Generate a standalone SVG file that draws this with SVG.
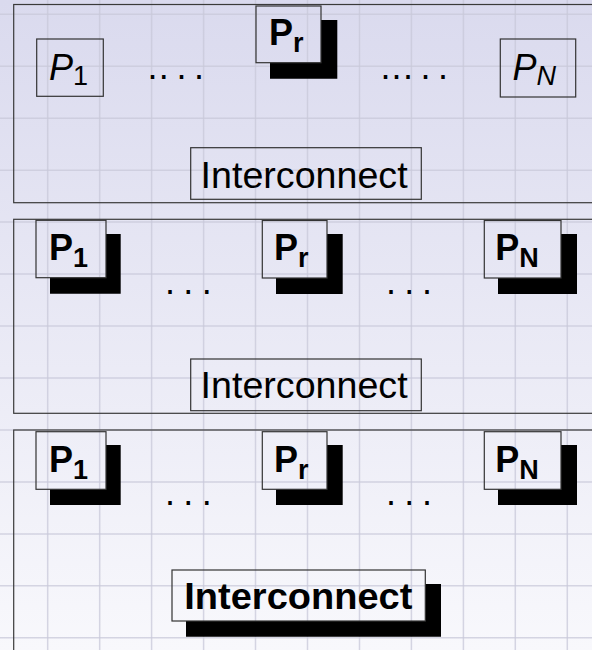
<svg xmlns="http://www.w3.org/2000/svg" width="592" height="650" viewBox="0 0 592 650">
<defs>
<linearGradient id="bg" x1="0" y1="0" x2="0" y2="650" gradientUnits="userSpaceOnUse">
<stop offset="0" stop-color="#dadaee"/>
<stop offset="1" stop-color="#f8f8fc"/>
</linearGradient>
<style>
.grid line{stroke:#c9c9da;stroke-width:1.5;opacity:0.75}
.outer{fill:none;stroke:#3a3a3a;stroke-width:1.2}
.box{fill:none;stroke:#333;stroke-width:1.2}
.sh{fill:#000}
text{font-family:"Liberation Sans",Arial,sans-serif;fill:#000}
.p{font-size:36px}
.sub{font-size:27px}
.b{font-weight:bold}
.it{font-style:italic}
.ic{font-size:37px}
.dots{font-size:36px}
</style>
</defs>
<rect x="0" y="0" width="592" height="650" fill="url(#bg)"/>
<g class="grid">
<line x1="47.7" y1="0" x2="47.7" y2="650"/>
<line x1="99.7" y1="0" x2="99.7" y2="650"/>
<line x1="151.6" y1="0" x2="151.6" y2="650"/>
<line x1="203.6" y1="0" x2="203.6" y2="650"/>
<line x1="255.5" y1="0" x2="255.5" y2="650"/>
<line x1="307.5" y1="0" x2="307.5" y2="650"/>
<line x1="359.5" y1="0" x2="359.5" y2="650"/>
<line x1="411.4" y1="0" x2="411.4" y2="650"/>
<line x1="463.4" y1="0" x2="463.4" y2="650"/>
<line x1="515.3" y1="0" x2="515.3" y2="650"/>
<line x1="567.3" y1="0" x2="567.3" y2="650"/>
<line x1="0" y1="14.3" x2="592" y2="14.3"/>
<line x1="0" y1="66.3" x2="592" y2="66.3"/>
<line x1="0" y1="118.2" x2="592" y2="118.2"/>
<line x1="0" y1="170.2" x2="592" y2="170.2"/>
<line x1="0" y1="222.1" x2="592" y2="222.1"/>
<line x1="0" y1="274.1" x2="592" y2="274.1"/>
<line x1="0" y1="326" x2="592" y2="326"/>
<line x1="0" y1="378" x2="592" y2="378"/>
<line x1="0" y1="430" x2="592" y2="430"/>
<line x1="0" y1="481.9" x2="592" y2="481.9"/>
<line x1="0" y1="533.9" x2="592" y2="533.9"/>
<line x1="0" y1="585.8" x2="592" y2="585.8"/>
<line x1="0" y1="637.8" x2="592" y2="637.8"/>
</g>

<g id="panel1">
<rect class="outer" x="13.7" y="4.5" width="600" height="198.2"/>
<g id="p1-P1">
<rect class="box" x="36.7" y="39" width="66.6" height="57.3"/>
<text class="p it" x="49" y="80">P<tspan class="sub" font-style="normal" dy="5">1</tspan></text>
</g>
<text class="dots" x="147.5 158.8 176.5 194.1" y="78.7">....</text>
<g id="p1-Pr">
<path class="sh" d="M321,20 H337.3 V78.7 H270 V62.7 H321 Z"/>
<rect class="box" x="256" y="6" width="65" height="56.7"/>
<text class="p b" x="269" y="45">P<tspan class="sub" dy="6.7">r</tspan></text>
</g>
<text class="dots" x="380.5 391.5 403.1 420.5 438.1" y="78.7">.....</text>
<g id="p1-PN">
<rect class="box" x="500.3" y="39" width="75.4" height="58"/>
<text class="p it" x="512.5" y="80">P<tspan class="sub" dy="5">N</tspan></text>
</g>
<g id="p1-ic">
<rect class="box" x="190.7" y="147.7" width="230.6" height="51.6"/>
<text class="ic" x="200.6" y="188.3" textLength="207" lengthAdjust="spacingAndGlyphs">Interconnect</text>
</g>
</g>

<g id="panel2">
<rect class="outer" x="13.7" y="219.3" width="600" height="194"/>
<g id="p2-P1">
<path class="sh" d="M106,234 H120.7 V293.7 H50 V277.7 H106 Z"/>
<rect class="box" x="36" y="220.3" width="70" height="57.4"/>
<text class="p b" x="49" y="259.5">P<tspan class="sub" dy="7.2">1</tspan></text>
</g>
<text class="dots" x="165 183.3 201.7" y="293.5">...</text>
<g id="p2-Pr">
<path class="sh" d="M327,234 H342.7 V294 H276 V278 H327 Z"/>
<rect class="box" x="262.3" y="220.5" width="64.7" height="57.5"/>
<text class="p b" x="274" y="259.5">P<tspan class="sub" dy="7.2">r</tspan></text>
</g>
<text class="dots" x="386 404.3 422" y="293.5">...</text>
<g id="p2-PN">
<path class="sh" d="M561,234 H577 V294 H498 V278 H561 Z"/>
<rect class="box" x="484.3" y="220.5" width="76.7" height="57.5"/>
<text class="p b" x="495.2" y="259.5">P<tspan class="sub" dy="7.2">N</tspan></text>
</g>
<g id="p2-ic">
<rect class="box" x="190.7" y="359" width="230.6" height="51.7"/>
<text class="ic" x="200.6" y="398.3" textLength="207" lengthAdjust="spacingAndGlyphs">Interconnect</text>
</g>
</g>

<g id="panel3">
<rect class="outer" x="13.7" y="430" width="600" height="240"/>
<g id="p3-P1">
<path class="sh" d="M106,445 H120.7 V505 H50 V489.3 H106 Z"/>
<rect class="box" x="36" y="431.7" width="70" height="57.6"/>
<text class="p b" x="49" y="471.5">P<tspan class="sub" dy="7">1</tspan></text>
</g>
<text class="dots" x="165 183.3 201.7" y="505.2">...</text>
<g id="p3-Pr">
<path class="sh" d="M327,445 H342.7 V505 H276 V489.3 H327 Z"/>
<rect class="box" x="262.3" y="431.7" width="64.7" height="57.6"/>
<text class="p b" x="274" y="471.5">P<tspan class="sub" dy="7">r</tspan></text>
</g>
<text class="dots" x="386 404.3 422" y="505.2">...</text>
<g id="p3-PN">
<path class="sh" d="M561,445 H577 V505 H498 V489.3 H561 Z"/>
<rect class="box" x="484.3" y="431.7" width="76.7" height="57.6"/>
<text class="p b" x="495.2" y="471.5">P<tspan class="sub" dy="7">N</tspan></text>
</g>
<g id="p3-ic">
<path class="sh" d="M425.3,584 H441 V636.7 H186 V621 H425.3 Z"/>
<rect class="box" x="172" y="570" width="253.3" height="51"/>
<text class="ic b" x="184.3" y="609.3" textLength="228" lengthAdjust="spacingAndGlyphs">Interconnect</text>
</g>
</g>
<g id="connectors"/>
</svg>
